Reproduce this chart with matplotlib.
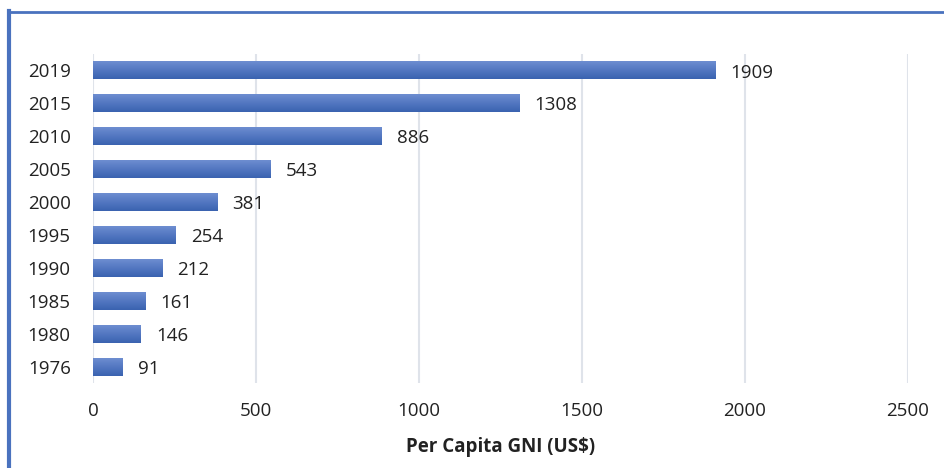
import matplotlib
matplotlib.use("Agg")
import matplotlib.pyplot as plt
import numpy as np
from matplotlib.colors import LinearSegmentedColormap
from matplotlib.lines import Line2D

years = ["1976", "1980", "1985", "1990", "1995", "2000", "2005", "2010", "2015", "2019"]
gni = [91, 146, 161, 212, 254, 381, 543, 886, 1308, 1909]
xticks = [0, 500, 1000, 1500, 2000, 2500]

plt.rcParams['font.family'] = ['Open Sans', 'DejaVu Sans']

fig = plt.figure(figsize=(9.45, 4.68), dpi=100)
ax = fig.add_axes([93 / 945, 1 - 383 / 468, (908 - 93) / 945, (383 - 54) / 468])

ypos = np.arange(len(years))
bars = ax.barh(ypos, gni, height=0.55, color="none", edgecolor="none", zorder=3)

# vertical gradient fill for each bar: darker at the bottom, lighter on top
cmap = LinearSegmentedColormap.from_list("bar", ["#3a63b0", "#5478c2", "#7090d2"])
grad = np.linspace(0, 1, 64).reshape(-1, 1)
for b in bars:
    x0, y0 = b.get_x(), b.get_y()
    w, h = b.get_width(), b.get_height()
    im = ax.imshow(grad, extent=[x0, x0 + w, y0, y0 + h], origin="lower",
                   cmap=cmap, aspect="auto", zorder=3, interpolation="bilinear")
    im.set_clip_path(b)

for y, v in zip(ypos, gni):
    ax.annotate(f"{v}", xy=(v, y), xytext=(11, -1.5), textcoords="offset points",
                va="center", ha="left", fontsize=13.5, color="#222222", zorder=4)

ax.set_xlim(0, 2500)
ax.set_ylim(-0.5, len(years) - 0.5)
ax.set_xticks(xticks)
ax.set_xticklabels([str(t) for t in xticks], fontsize=13.5, color="#222222")
ax.set_yticks(ypos)
ax.set_yticklabels(years, fontsize=13.5, color="#222222")
ax.tick_params(axis="both", length=0)
ax.tick_params(axis="x", pad=14)
ax.tick_params(axis="y", pad=16)
ax.xaxis.grid(True, color="#dfe3ea", linewidth=1.5, zorder=0)
ax.set_axisbelow(True)
for s in ax.spines.values():
    s.set_visible(False)
ax.set_xlabel("Per Capita GNI (US$)", fontsize=13.5, fontweight="bold",
              color="#222222", labelpad=12)

# frame lines on the left and top of the figure
fig.add_artist(Line2D([9.5 / 945, 9.5 / 945], [0, 1 - 11 / 468],
                      transform=fig.transFigure, color="#4a72be", linewidth=3))
fig.add_artist(Line2D([8 / 945, 1], [1 - 12 / 468, 1 - 12 / 468],
                      transform=fig.transFigure, color="#4a72be", linewidth=2))

fig.savefig("out.png", dpi=100)
